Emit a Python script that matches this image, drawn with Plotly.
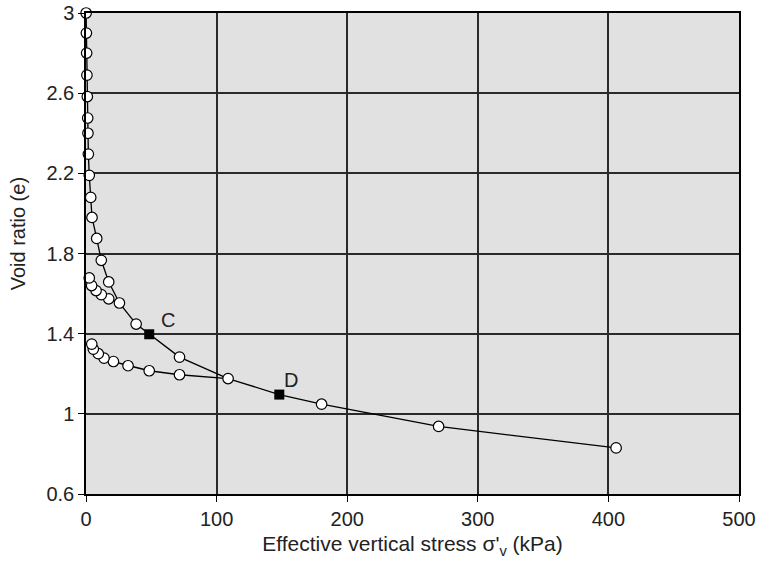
import plotly.graph_objects as go

# Loading / unloading path (effective vertical stress kPa, void ratio)
path_stress = [0.1, 0.3, 0.5, 0.7, 1.0, 1.3, 1.5, 1.8, 2.5, 3.6, 4.6, 8.2, 11.7, 17.4, 25.6,
               17.4, 11.7, 7.7, 4.3, 2.5,
               4.3, 7.7, 11.7, 17.4, 25.6,
               38.4, 48.4, 71.6, 108.8,
               71.6, 48.4, 32.2, 21.0, 13.8, 9.4, 5.6, 4.4,
               5.6, 9.4, 13.8, 21.0, 32.2, 48.4, 71.6, 108.8,
               148.0, 180.4, 270.0, 405.9]
path_void = [3.0, 2.9, 2.8, 2.69, 2.583, 2.476, 2.40, 2.296, 2.19, 2.08, 1.98, 1.875, 1.766, 1.658, 1.553,
             1.574, 1.595, 1.615, 1.64, 1.678,
             1.64, 1.615, 1.595, 1.574, 1.553,
             1.448, 1.397, 1.283, 1.176,
             1.195, 1.215, 1.24, 1.261, 1.278, 1.30, 1.323, 1.348,
             1.323, 1.30, 1.278, 1.261, 1.24, 1.215, 1.195, 1.176,
             1.096, 1.048, 0.937, 0.83]

# Measured (open circle) points
pt_stress = [0.1, 0.3, 0.5, 0.7, 1.0, 1.3, 1.5, 1.8, 2.5, 3.6, 4.6, 8.2, 11.7, 17.4, 25.6,
             17.4, 11.7, 7.7, 4.3, 2.5,
             38.4, 71.6, 108.8,
             71.6, 48.4, 32.2, 21.0, 13.8, 9.4, 5.6, 4.4,
             180.4, 270.0, 405.9]
pt_void = [3.0, 2.9, 2.8, 2.69, 2.583, 2.476, 2.40, 2.296, 2.19, 2.08, 1.98, 1.875, 1.766, 1.658, 1.553,
           1.574, 1.595, 1.615, 1.64, 1.678,
           1.448, 1.283, 1.176,
           1.195, 1.215, 1.24, 1.261, 1.278, 1.30, 1.323, 1.348,
           1.048, 0.937, 0.83]

# Marked points C and D
mark_labels = ["C", "D"]
mark_stress = [48.4, 148.0]
mark_void = [1.397, 1.096]
label_stress = [62.5, 157.0]
label_void = [1.466, 1.17]

x_ticks = [0, 100, 200, 300, 400, 500]
y_ticks = [0.6, 1.0, 1.4, 1.8, 2.2, 2.6, 3.0]
y_tick_text = ["0.6", "1", "1.4", "1.8", "2.2", "2.6", "3"]

x_title = "Effective vertical stress σ'<sub>v</sub> (kPa)"
y_title = "Void ratio (e)"

FONT = "Liberation Sans, Arial, sans-serif"

fig = go.Figure()
fig.add_trace(go.Scatter(x=path_stress, y=path_void, mode="lines",
                         line=dict(color="black", width=1.3), hoverinfo="skip",
                         showlegend=False))
fig.add_trace(go.Scatter(x=pt_stress, y=pt_void, mode="markers", cliponaxis=False,
                         marker=dict(symbol="circle", size=10.5, color="white",
                                     line=dict(color="black", width=1.2)),
                         showlegend=False))
fig.add_trace(go.Scatter(x=mark_stress, y=mark_void, mode="markers",
                         marker=dict(symbol="square", size=10, color="black",
                                     line=dict(color="black", width=0)),
                         showlegend=False))
for lab, lx, ly in zip(mark_labels, label_stress, label_void):
    fig.add_annotation(x=lx, y=ly, text=lab, showarrow=False,
                       font=dict(family=FONT, size=20, color="#222"))

# y-axis title as rotated annotation
fig.add_annotation(xref="paper", yref="paper", x=-0.104, y=0.54, text=y_title,
                   textangle=-90, showarrow=False, xanchor="center", yanchor="middle",
                   font=dict(family=FONT, size=20, color="#222"))

fig.update_layout(
    width=761, height=566,
    margin=dict(l=86, r=22, t=13, b=72),
    paper_bgcolor="white", plot_bgcolor="#e1e1e1",
    font=dict(family=FONT, size=20, color="#222"),
)
fig.update_xaxes(range=[0, 500], tickvals=x_ticks, showgrid=True, automargin=False,
                 gridcolor="#2a2a2a", gridwidth=1.5, showline=True, linecolor="black",
                 linewidth=1.5, mirror=True, ticks="outside", ticklen=6, tickcolor="black",
                 zeroline=False, tickfont=dict(size=20),
                 title=dict(text=x_title, font=dict(size=21), standoff=8))
fig.update_yaxes(range=[0.6, 3.0], tickvals=y_ticks, ticktext=y_tick_text, showgrid=True,
                 automargin=False,
                 gridcolor="#2a2a2a", gridwidth=1.5, showline=True, linecolor="black",
                 linewidth=1.5, mirror=True, ticks="outside", ticklen=6, tickcolor="black",
                 zeroline=False, tickfont=dict(size=20))

fig.write_html("out.html", config={"displayModeBar": False},
               post_script="document.body.style.margin='0';")
